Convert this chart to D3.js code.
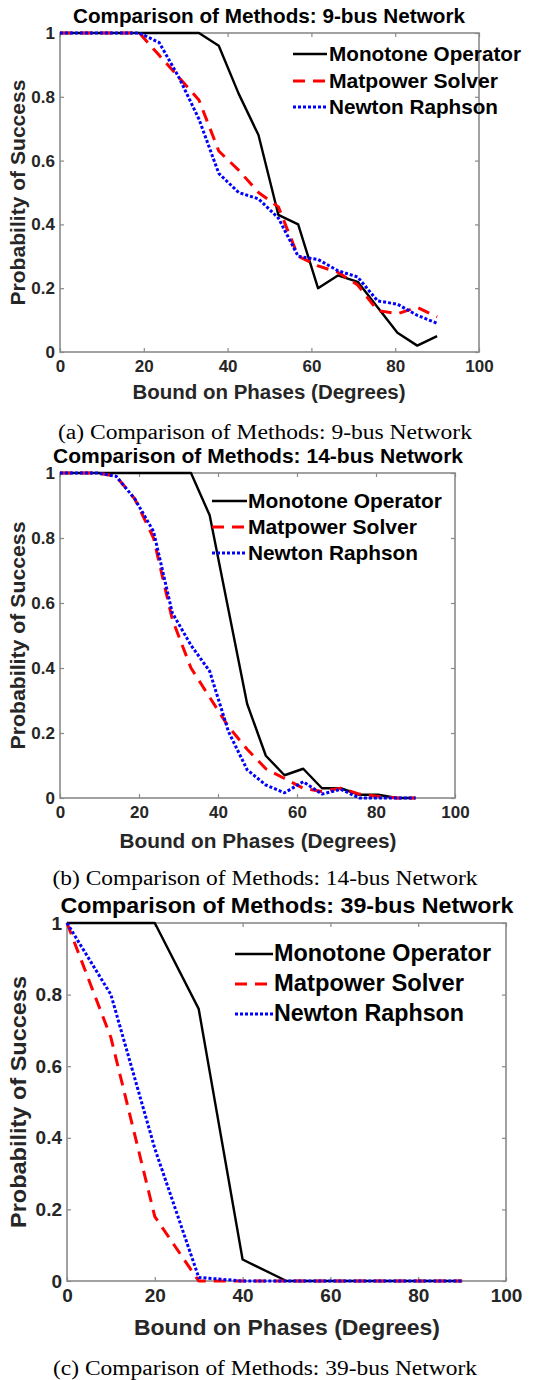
<!DOCTYPE html>
<html>
<head>
<meta charset="utf-8">
<script src="https://cdn.jsdelivr.net/npm/d3@7"></script>
<style>
  html, body { margin: 0; padding: 0; background: #fff; }
  svg { display: block; }
  .bold { font-family: "Liberation Sans", Arial, sans-serif; font-weight: bold; }
  .serif { font-family: "Liberation Serif", "Times New Roman", serif; }
</style>
</head>
<body>
<svg id="chart" width="546" height="1380"></svg>
<script>
// ---------------- DATA ----------------
const seriesNames = ["Monotone Operator", "Matpower Solver", "Newton Raphson"];
const xTickValues = [0, 20, 40, 60, 80, 100];
const yTickValues = [0, 0.2, 0.4, 0.6, 0.8, 1];

// bound on phases (degrees) for the 9-bus and 14-bus studies
const boundsFine = [0, 4.74, 9.47, 14.21, 18.95, 23.68, 28.42, 33.16, 37.89, 42.63,
                    47.37, 52.11, 56.84, 61.58, 66.32, 71.05, 75.79, 80.53, 85.26, 90];
// bound on phases (degrees) for the 39-bus study
const boundsCoarse = [0, 10, 20, 30, 40, 50, 60, 70, 80, 90];

const bus9Monotone = [1, 1, 1, 1, 1, 1, 1, 1, 0.96, 0.81, 0.68, 0.43, 0.40, 0.20, 0.24, 0.22, 0.14, 0.06, 0.02, 0.05];
const bus9Matpower = [1, 1, 1, 1, 1, 0.93, 0.86, 0.79, 0.63, 0.57, 0.50, 0.455, 0.30, 0.27, 0.25, 0.21, 0.13, 0.12, 0.14, 0.11];
const bus9Newton   = [1, 1, 1, 1, 1, 0.97, 0.86, 0.73, 0.56, 0.50, 0.48, 0.42, 0.30, 0.29, 0.255, 0.235, 0.16, 0.15, 0.115, 0.09];

const bus14Monotone = [1, 1, 1, 1, 1, 1, 1, 1, 0.87, 0.58, 0.29, 0.13, 0.07, 0.09, 0.03, 0.03, 0.01, 0.01, 0, 0];
const bus14Matpower = [1, 1, 1, 0.99, 0.92, 0.80, 0.55, 0.40, 0.31, 0.22, 0.15, 0.09, 0.06, 0.03, 0.02, 0.03, 0.012, 0.005, 0, 0];
const bus14Newton   = [1, 1, 1, 0.99, 0.92, 0.82, 0.57, 0.47, 0.39, 0.205, 0.087, 0.04, 0.016, 0.05, 0.012, 0.027, 0, 0, 0, 0];

const bus39Monotone = [1, 1, 1, 0.76, 0.06, 0, 0, 0, 0, 0];
const bus39Matpower = [1, 0.68, 0.18, 0, 0, 0, 0, 0, 0, 0];
const bus39Newton   = [1, 0.80, 0.37, 0.01, 0, 0, 0, 0, 0, 0];

const titles = ["Comparison of Methods: 9-bus Network",
                "Comparison of Methods: 14-bus Network",
                "Comparison of Methods: 39-bus Network"];
const captions = ["(a) Comparison of Methods: 9-bus Network",
                  "(b) Comparison of Methods: 14-bus Network",
                  "(c) Comparison of Methods: 39-bus Network"];
const xLabel = "Bound on Phases (Degrees)";
const yLabel = "Probability of Success";

// ---------------- STYLE / LAYOUT ----------------
const seriesStyle = [
  { color: "#000000", width: 2.4, dash: null },
  { color: "#ff0000", width: 3, dash: "12,8" },
  { color: "#0000ff", width: 3, dash: "3,2" }
];

const panels = [
  { x: boundsFine, ys: [bus9Monotone, bus9Matpower, bus9Newton],
    L: 60, R: 479, T: 33, B: 352, tickFont: 17,
    title: { cx: 269, y: 23, w: 392, fs: 21 },
    legend: { x0: 293, x1: 327, tx: 329, ys: [61, 88, 114], ws: [192, 169, 169], fs: 21 },
    xlab: { cx: 269, y: 399, w: 273, fs: 20 },
    ylab: { x: 25, w: 226, fs: 20 },
    cap: { cx: 265, y: 439, w: 414, fs: 20 } },
  { x: boundsFine, ys: [bus14Monotone, bus14Matpower, bus14Newton],
    L: 60, R: 455, T: 473, B: 798, tickFont: 17,
    title: { cx: 258, y: 463, w: 410, fs: 21 },
    legend: { x0: 212, x1: 247, tx: 248, ys: [508, 534, 560], ws: [194, 169, 170], fs: 21 },
    xlab: { cx: 258, y: 848, w: 277, fs: 20 },
    ylab: { x: 25, w: 228, fs: 20 },
    cap: { cx: 265, y: 885, w: 425, fs: 20 } },
  { x: boundsCoarse, ys: [bus39Monotone, bus39Matpower, bus39Newton],
    L: 67, R: 506, T: 923, B: 1281, tickFont: 19,
    title: { cx: 287, y: 913, w: 453, fs: 22 },
    legend: { x0: 235, x1: 273, tx: 274, ys: [961, 991, 1021], ws: [217, 190, 190], fs: 23 },
    xlab: { cx: 287, y: 1335, w: 306, fs: 22 },
    ylab: { x: 26, w: 252, fs: 22 },
    cap: { cx: 265, y: 1375, w: 424, fs: 20 } }
];

const svg = d3.select("#chart");
const axisColor = "#8a8a8a";
const tickTextColor = "#262626";

panels.forEach((p, pi) => {
  const g = svg.append("g");
  const x = d3.scaleLinear().domain([0, 100]).range([p.L, p.R]);
  const y = d3.scaleLinear().domain([0, 1]).range([p.B, p.T]);

  const fmtY = d => (d === 0 || d === 1) ? String(d) : d3.format(".1f")(d);
  const styleAxis = sel => {
    sel.select(".domain").remove();
    sel.selectAll(".tick line").attr("stroke", axisColor).attr("stroke-width", 1.2);
    sel.selectAll(".tick text").attr("class", "bold").attr("fill", tickTextColor)
       .style("font-size", p.tickFont + "px");
  };
  g.append("g").attr("transform", `translate(${p.L},0)`)
    .call(d3.axisLeft(y).tickValues(yTickValues).tickFormat(fmtY).tickSizeInner(-4).tickSizeOuter(0).tickPadding(5))
    .call(styleAxis);
  g.append("g").attr("transform", `translate(${p.R},0)`)
    .call(d3.axisRight(y).tickValues(yTickValues).tickFormat("").tickSizeInner(-4).tickSizeOuter(0))
    .call(styleAxis);
  g.append("g").attr("transform", `translate(0,${p.B})`)
    .call(d3.axisBottom(x).tickValues(xTickValues).tickFormat(d3.format("d")).tickSizeInner(-4).tickSizeOuter(0).tickPadding(8))
    .call(styleAxis);
  g.append("g").attr("transform", `translate(0,${p.T})`)
    .call(d3.axisTop(x).tickValues(xTickValues).tickFormat("").tickSizeInner(-4).tickSizeOuter(0))
    .call(styleAxis);

  g.append("rect").attr("x", p.L).attr("y", p.T).attr("width", p.R - p.L).attr("height", p.B - p.T)
    .attr("fill", "none").attr("stroke", axisColor).attr("stroke-width", 1.6);

  const line = d3.line().x((d, i) => x(p.x[i])).y(d => y(d));
  p.ys.forEach((vals, si) => {
    const st = seriesStyle[si];
    g.append("path").datum(vals).attr("d", line)
      .attr("fill", "none").attr("stroke", st.color).attr("stroke-width", st.width)
      .attr("stroke-dasharray", st.dash).attr("stroke-linejoin", "round");
  });

  seriesNames.forEach((name, si) => {
    const st = seriesStyle[si];
    const ly = p.legend.ys[si] - 7;
    g.append("line").attr("x1", p.legend.x0).attr("x2", p.legend.x1).attr("y1", ly).attr("y2", ly)
      .attr("stroke", st.color).attr("stroke-width", st.width).attr("stroke-dasharray", st.dash);
    g.append("text").attr("class", "bold").attr("x", p.legend.tx).attr("y", p.legend.ys[si])
      .style("font-size", p.legend.fs + "px").attr("fill", "#000")
      .attr("textLength", p.legend.ws[si]).attr("lengthAdjust", "spacingAndGlyphs").text(name);
  });

  g.append("text").attr("class", "bold").attr("x", p.title.cx).attr("y", p.title.y)
    .attr("text-anchor", "middle").style("font-size", p.title.fs + "px").attr("fill", "#000")
    .attr("textLength", p.title.w).attr("lengthAdjust", "spacingAndGlyphs").text(titles[pi]);

  g.append("text").attr("class", "bold").attr("x", p.xlab.cx).attr("y", p.xlab.y)
    .attr("text-anchor", "middle").style("font-size", p.xlab.fs + "px").attr("fill", tickTextColor)
    .attr("textLength", p.xlab.w).attr("lengthAdjust", "spacingAndGlyphs").text(xLabel);

  const ycy = (p.T + p.B) / 2;
  g.append("text").attr("class", "bold")
    .attr("transform", `translate(${p.ylab.x},${ycy}) rotate(-90)`)
    .attr("text-anchor", "middle").style("font-size", p.ylab.fs + "px").attr("fill", tickTextColor)
    .attr("textLength", p.ylab.w).attr("lengthAdjust", "spacingAndGlyphs").text(yLabel);

  g.append("text").attr("class", "serif").attr("x", p.cap.cx).attr("y", p.cap.y)
    .attr("text-anchor", "middle").style("font-size", p.cap.fs + "px").attr("fill", "#000")
    .attr("textLength", p.cap.w).attr("lengthAdjust", "spacingAndGlyphs").text(captions[pi]);
});
</script>
</body>
</html>
